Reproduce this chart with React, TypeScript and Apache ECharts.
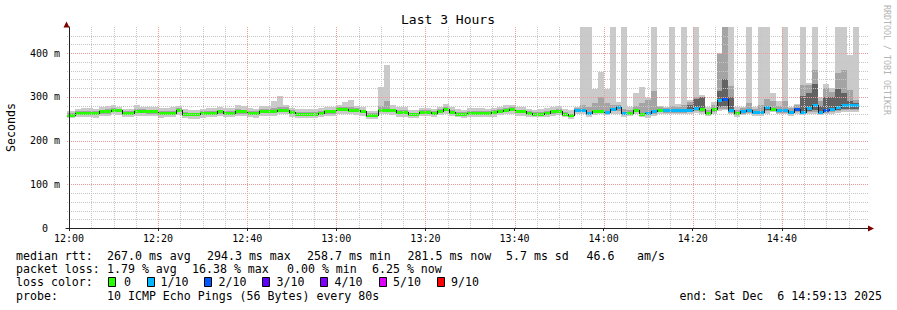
import React, { useEffect, useRef } from 'react';
import * as echarts from 'echarts';

// seconds per sample, sample index of the first entry (relative to 12:00:00)
const STEP = 80;
const FIRST_SAMPLE = -1;

// median RTT per sample (ms)
const medianRtt = [
  259, 259, 264, 264, 263, 263, 267, 267, 270, 270,
  263, 263, 268, 268, 267, 267, 263, 264, 264, 270,
  262, 260, 260, 263, 263, 263, 267, 264, 264, 267,
  267, 263, 263, 268, 268, 268, 271, 271, 265, 262,
  262, 262, 262, 264, 267, 267, 272, 272, 269, 269,
  267, 259, 259, 269, 269, 269, 265, 265, 260, 260,
  266, 266, 263, 268, 272, 266, 262, 261, 264, 264,
  264, 264, 265, 268, 271, 272, 267, 267, 263, 262,
  262, 263, 267, 268, 261, 258, 270, 271, 263, 268,
  268, 266, 273, 276, 263, 264, 270, 262, 263, 268,
  271, 270, 270, 270, 270, 271, 275, 273, 264, 272,
  292, 295, 270, 263, 268, 270, 266, 266, 277, 273,
  270, 270, 266, 273, 265, 275, 281, 266, 270, 273,
  276, 281, 281, 281,
];

// lost pings (of 10) per sample
const lossCount = [
  0, 0, 0, 0, 0, 0, 0, 0, 0, 0,
  0, 0, 0, 0, 0, 0, 0, 0, 0, 0,
  0, 0, 0, 0, 0, 0, 0, 0, 0, 0,
  0, 0, 0, 0, 0, 0, 0, 0, 0, 0,
  0, 0, 0, 0, 0, 0, 0, 0, 0, 0,
  0, 0, 0, 0, 0, 0, 0, 0, 0, 0,
  0, 0, 0, 0, 0, 0, 0, 0, 0, 0,
  0, 0, 0, 0, 0, 0, 0, 0, 0, 0,
  0, 0, 0, 0, 0, 0, 1, 1, 1, 0,
  0, 1, 1, 1, 1, 0, 0, 0, 1, 1,
  0, 1, 1, 1, 1, 1, 1, 0, 0, 0,
  1, 2, 1, 0, 1, 1, 1, 1, 1, 0,
  1, 1, 1, 2, 1, 1, 1, 1, 2, 1,
  1, 1, 1, 1,
];

// smoke: slowest / fastest ping (outer band)
const pingMin = [
  251, 251, 254, 253, 253, 252, 256, 256, 260, 258,
  254, 253, 256, 257, 256, 256, 252, 254, 254, 258,
  252, 250, 250, 252, 253, 254, 256, 253, 254, 256,
  256, 253, 252, 257, 257, 256, 260, 260, 254, 252,
  252, 252, 252, 254, 256, 256, 262, 261, 260, 259,
  257, 250, 250, 260, 260, 259, 255, 255, 251, 251,
  256, 256, 253, 258, 261, 256, 253, 252, 254, 254,
  254, 254, 255, 258, 260, 261, 257, 257, 254, 253,
  253, 254, 257, 258, 253, 250, 262, 262, 255, 259,
  260, 258, 262, 262, 253, 257, 262, 255, 252, 256,
  262, 260, 260, 260, 260, 262, 264, 262, 257, 262,
  268, 270, 260, 255, 258, 260, 257, 257, 262, 265,
  260, 260, 256, 262, 258, 262, 262, 258, 260, 262,
  264, 266, 266, 266,
];
const pingMax = [
  268, 268, 273, 274, 274, 273, 276, 279, 282, 278,
  272, 272, 281, 278, 276, 277, 274, 274, 277, 279,
  272, 270, 270, 273, 274, 274, 277, 275, 275, 282,
  279, 274, 273, 279, 280, 291, 301, 282, 275, 272,
  272, 273, 273, 275, 277, 277, 282, 288, 292, 280,
  278, 268, 268, 322, 372, 281, 277, 276, 270, 269,
  275, 274, 272, 278, 283, 278, 272, 270, 274, 275,
  274, 273, 275, 278, 281, 282, 277, 276, 272, 271,
  272, 274, 278, 279, 272, 270, 278, 500, 500, 317,
  357, 319, 500, 289, 500, 276, 309, 323, 298, 500,
  279, 276, 500, 284, 500, 292, 500, 304, 276, 289,
  401, 500, 500, 278, 276, 500, 276, 500, 500, 310,
  291, 500, 276, 284, 500, 332, 500, 300, 330, 320,
  500, 500, 395, 500,
];
// smoke: 2nd / 9th ping (middle band)
const pingLo2 = [
  255, 255, 260, 260, 259, 259, 262, 262, 265, 265,
  259, 259, 263, 263, 262, 262, 259, 260, 260, 265,
  258, 256, 256, 259, 259, 259, 262, 260, 260, 262,
  262, 259, 259, 263, 263, 263, 266, 266, 260, 258,
  258, 258, 258, 260, 262, 262, 267, 267, 265, 265,
  263, 255, 255, 265, 265, 265, 261, 261, 256, 256,
  262, 262, 259, 264, 267, 262, 258, 257, 260, 260,
  260, 260, 261, 264, 266, 267, 263, 263, 259, 258,
  258, 259, 262, 263, 257, 255, 265, 265, 259, 263,
  263, 261, 267, 268, 258, 259, 265, 258, 258, 262,
  265, 264, 264, 264, 264, 265, 268, 266, 260, 266,
  272, 272, 264, 258, 262, 264, 261, 261, 267, 268,
  263, 264, 260, 266, 262, 266, 266, 261, 264, 266,
  267, 270, 270, 270,
];
const pingHi2 = [
  263, 263, 268, 268, 267, 267, 271, 272, 274, 273,
  267, 267, 272, 272, 271, 271, 267, 268, 268, 274,
  266, 264, 264, 267, 267, 267, 271, 268, 268, 272,
  271, 267, 267, 272, 273, 274, 277, 276, 269, 266,
  266, 266, 266, 268, 271, 271, 277, 278, 276, 274,
  271, 263, 263, 280, 290, 273, 269, 269, 264, 264,
  270, 270, 267, 272, 277, 270, 266, 265, 268, 268,
  268, 268, 269, 272, 275, 276, 271, 271, 267, 266,
  266, 267, 271, 272, 265, 262, 275, 282, 278, 285,
  300, 285, 282, 282, 272, 270, 280, 285, 292, 314,
  277, 275, 280, 278, 282, 288, 300, 300, 270, 282,
  399, 500, 324, 270, 274, 285, 272, 282, 296, 290,
  280, 290, 274, 282, 327, 327, 361, 290, 320, 312,
  355, 361, 315, 294,
];
// smoke: 4th / 7th ping (inner band)
const pingLo4 = [
  257, 257, 262, 262, 261, 261, 264, 264, 267, 267,
  261, 261, 265, 265, 264, 264, 261, 262, 262, 267,
  260, 258, 258, 261, 261, 261, 264, 262, 262, 264,
  264, 261, 261, 265, 265, 265, 268, 268, 263, 260,
  260, 260, 260, 262, 264, 264, 269, 269, 267, 267,
  265, 257, 257, 267, 267, 267, 263, 263, 258, 258,
  264, 264, 261, 266, 269, 264, 260, 259, 262, 262,
  262, 262, 263, 266, 268, 269, 265, 265, 261, 260,
  260, 261, 265, 266, 259, 256, 268, 268, 261, 266,
  266, 264, 270, 272, 261, 262, 268, 260, 261, 266,
  268, 268, 268, 268, 268, 269, 270, 268, 262, 268,
  276, 280, 266, 261, 266, 268, 264, 264, 270, 270,
  267, 267, 264, 268, 264, 268, 270, 264, 266, 268,
  270, 272, 272, 272,
];
const pingHi4 = [
  261, 261, 266, 266, 265, 265, 269, 269, 272, 272,
  265, 265, 270, 270, 269, 269, 265, 266, 266, 272,
  264, 262, 262, 265, 265, 265, 269, 266, 266, 269,
  269, 265, 265, 270, 270, 270, 273, 273, 267, 264,
  264, 264, 264, 266, 269, 269, 274, 274, 271, 271,
  269, 261, 261, 271, 271, 271, 267, 267, 262, 262,
  268, 268, 265, 270, 274, 268, 264, 263, 266, 266,
  266, 266, 267, 270, 273, 274, 269, 269, 265, 264,
  264, 265, 269, 270, 263, 260, 272, 273, 265, 270,
  270, 268, 275, 278, 265, 266, 272, 264, 265, 270,
  273, 272, 272, 272, 272, 282, 296, 300, 266, 274,
  313, 342, 300, 265, 270, 272, 268, 268, 279, 275,
  272, 272, 268, 275, 302, 310, 330, 280, 300, 300,
  317, 310, 290, 285,
];

// axis ticks (x in seconds after 12:00)
const xTickValues = [0, 1200, 2400, 3600, 4800, 6000, 7200, 8400, 9600];
const xTickLabels = ['12:00', '12:20', '12:40', '13:00', '13:20', '13:40', '14:00', '14:20', '14:40'];
const yTickValues = [0, 100, 200, 300, 400];
const yTickLabels = ['0', '100 m', '200 m', '300 m', '400 m'];

// loss colour legend
const lossLevels = [0, 1, 2, 3, 4, 5, 9];
const lossLabels = ['0', '1/10', '2/10', '3/10', '4/10', '5/10', '9/10'];
const lossColors = ['#26ff00', '#00b8ff', '#0059ff', '#5e00ff', '#7e00ff', '#dd00ff', '#ff0000'];

const FONT = '"DejaVu Sans Mono", "Liberation Mono", monospace';

function lossColorOf(c: number): string {
  let idx = 0;
  for (let i = 0; i < lossLevels.length; i++) if (c >= lossLevels[i]) idx = i;
  return lossColors[idx];
}

function buildBand(lo: number[], hi: number[]) {
  return medianRtt.map((_, i) => {
    const t0 = (FIRST_SAMPLE + i) * STEP;
    return [t0, t0 + STEP, lo[i], hi[i]];
  });
}

function bandRenderer(color: string) {
  return (params: any, api: any) => {
    const cs = params.coordSys;
    const a = api.coord([api.value(0), api.value(3)]);
    const b = api.coord([api.value(1), api.value(2)]);
    const x0 = Math.max(cs.x + 1, Math.round(a[0]));
    const x1 = Math.min(cs.x + cs.width, Math.round(b[0]));
    const y0 = Math.max(cs.y, Math.round(a[1]));
    const y1 = Math.min(cs.y + cs.height, Math.round(b[1]));
    if (x1 <= x0 || y1 <= y0) return { type: 'group', children: [] };
    return {
      type: 'rect',
      shape: { x: x0, y: y0, width: x1 - x0, height: y1 - y0 },
      style: { fill: color },
    };
  };
}

function medianRenderer(params: any, api: any) {
  const cs = params.coordSys;
  const t0 = api.value(0);
  const t1 = api.value(1);
  const m = api.value(2);
  const pm = api.value(3);
  const loss = api.value(4);
  const a = api.coord([t0, m]);
  const b = api.coord([t1, m]);
  const p = api.coord([t0, pm]);
  const xr = Math.round(a[0]);
  const x0 = Math.max(cs.x + 1, xr);
  const x1 = Math.min(cs.x + cs.width, Math.round(b[0]));
  const y = Math.round(a[1]);
  const yp = Math.round(p[1]);
  const children: any[] = [];
  if (x1 > x0) {
    children.push({
      type: 'rect',
      shape: { x: x0, y: y - 1, width: x1 - x0, height: 3 },
      style: { fill: lossColorOf(loss) },
    });
  }
  if (yp !== y && xr > cs.x + 1) {
    children.push({
      type: 'rect',
      shape: { x: xr, y: Math.min(y, yp), width: 1, height: Math.abs(y - yp) + 1 },
      style: { fill: '#202020' },
    });
  }
  return { type: 'group', children };
}

function gridRenderer(params: any, api: any) {
  const cs = params.coordSys;
  const left = cs.x + 1;
  const right = cs.x + cs.width;
  const top = cs.y;
  const bottom = cs.y + cs.height;
  const minor = '#c6c6c6';
  const major = '#ec9a9a';
  const children: any[] = [];
  const vline = (t: number, color: string) => {
    const x = Math.round(api.coord([t, 0])[0]) + 0.5;
    children.push({
      type: 'line',
      shape: { x1: x, y1: top, x2: x, y2: bottom },
      style: { stroke: color, lineWidth: 1, lineDash: [1, 1] },
    });
  };
  const hline = (v: number, color: string) => {
    const y = Math.round(api.coord([0, v])[1]) + 0.5;
    children.push({
      type: 'line',
      shape: { x1: left, y1: y, x2: right, y2: y },
      style: { stroke: color, lineWidth: 1, lineDash: [1, 1] },
    });
  };
  for (let t = 0; t <= 10500; t += 300) if (t % 1200 !== 0) vline(t, minor);
  for (let v = 20; v <= 440; v += 20) if (v % 100 !== 0) hline(v, minor);
  for (let t = 0; t <= 10500; t += 1200) vline(t, major);
  for (let v = 100; v <= 400; v += 100) hline(v, major);
  return { type: 'group', children };
}

function text(x: number, y: number, s: string, size = 11.6, align = 'left', extra: any = {}) {
  return {
    type: 'text',
    x,
    y,
    silent: true,
    ...extra,
    style: {
      text: s,
      fill: extra.fill || '#000',
      fontFamily: FONT,
      fontSize: size,
      align,
      verticalAlign: 'middle',
    },
  };
}

function buildOption() {
  const medianData = medianRtt.map((m, i) => {
    const t0 = (FIRST_SAMPLE + i) * STEP;
    return [t0, t0 + STEP, m, i > 0 ? medianRtt[i - 1] : m, lossCount[i]];
  });

  const row1 = 255.5;
  const row2 = 268.5;
  const row3 = 282;
  const row4 = 296;
  const boxX = [108, 147, 204, 262, 320, 379, 437];
  const boxLabelX = [124, 160.5, 218.5, 276.5, 334.5, 393, 451];

  const elements: any[] = [
    text(448, 19.5, 'Last 3 Hours', 13, 'center'),
    text(11, 127.5, 'Seconds', 11.6, 'center', { rotation: Math.PI / 2 }),
    text(886.5, 60, 'RRDTOOL / TOBI OETIKER', 8.3, 'center', { rotation: -Math.PI / 2, fill: '#b4b4b4' }),
    {
      type: 'polygon', silent: true, z: 100,
      shape: { points: [[66.5, 21.5], [63.5, 27.5], [69.5, 27.5]] },
      style: { fill: '#7f0000' },
    },
    {
      type: 'polygon', silent: true, z: 100,
      shape: { points: [[874, 228.5], [868, 225.5], [868, 231.5]] },
      style: { fill: '#7f0000' },
    },
    text(16, row1, 'median rtt:'),
    text(107, row1, '267.0 ms avg'),
    text(207, row1, '294.3 ms max'),
    text(307, row1, '258.7 ms min'),
    text(407.5, row1, '281.5 ms now'),
    text(506, row1, '5.7 ms sd'),
    text(586.5, row1, '46.6'),
    text(637, row1, 'am/s'),
    text(16, row2, 'packet loss:'),
    text(107, row2, '1.79 % avg'),
    text(192, row2, '16.38 % max'),
    text(287, row2, '0.00 % min'),
    text(372, row2, '6.25 % now'),
    text(16, row3, 'loss color:'),
    text(16, row4, 'probe:'),
    text(107, row4, '10 ICMP Echo Pings (56 Bytes) every 80s'),
    text(882, row4, 'end: Sat Dec  6 14:59:13 2025', 11.6, 'right'),
  ];
  lossLabels.forEach((lab, i) => {
    elements.push({
      type: 'rect', silent: true,
      shape: { x: boxX[i] + 0.5, y: row3 - 4.5, width: 7, height: 9 },
      style: { fill: lossColors[i], stroke: '#000', lineWidth: 1 },
    });
    elements.push(text(boxLabelX[i], row3, lab));
  });

  return {
    animation: false,
    backgroundColor: '#ffffff',
    grid: { left: 66, top: 27, width: 802, height: 201, containLabel: false, outerBoundsMode: 'none' },
    xAxis: {
      type: 'value',
      min: -40,
      max: 10760,
      z: 10,
      axisLine: { show: true, lineStyle: { color: '#222', width: 1 } },
      axisTick: { show: true, customValues: xTickValues, length: 3, lineStyle: { color: '#222' } },
      axisLabel: {
        customValues: xTickValues,
        formatter: (v: number) => {
          const i = xTickValues.indexOf(v);
          return i >= 0 ? xTickLabels[i] : '';
        },
        fontFamily: FONT,
        fontSize: 10,
        color: '#000',
        margin: 5,
      },
      splitLine: { show: false },
    },
    yAxis: {
      type: 'value',
      min: 0,
      max: 460,
      interval: 100,
      z: 10,
      axisLine: { show: true, lineStyle: { color: '#222', width: 1 } },
      axisTick: { show: false },
      axisLabel: {
        showMaxLabel: false,
        formatter: (v: number) => {
          const i = yTickValues.indexOf(v);
          if (i < 0) return '';
          return i === 0 ? '{z|' + yTickLabels[0] + '}' : yTickLabels[i];
        },
        fontFamily: FONT,
        fontSize: 10,
        color: '#000',
        margin: 6,
        rich: { z: { fontFamily: FONT, fontSize: 10, color: '#000', padding: [0, 12, 0, 0] } },
      },
      splitLine: { show: false },
    },
    series: [
      { type: 'custom', name: 'smoke outer', z: 2, silent: true, renderItem: bandRenderer('#cacaca'), data: buildBand(pingMin, pingMax) },
      { type: 'custom', name: 'smoke mid', z: 3, silent: true, renderItem: bandRenderer('#a4a4a4'), data: buildBand(pingLo2, pingHi2) },
      { type: 'custom', name: 'smoke inner', z: 4, silent: true, renderItem: bandRenderer('#626262'), data: buildBand(pingLo4, pingHi4) },
      { type: 'custom', name: 'median rtt', z: 5, silent: true, renderItem: medianRenderer, data: medianData },
      { type: 'custom', name: 'grid', z: 6, silent: true, renderItem: gridRenderer, data: [[0, 0]] },
    ],
    graphic: { elements },
  };
}

export default function App() {
  const ref = useRef<HTMLDivElement>(null);
  useEffect(() => {
    document.body.style.margin = '0';
    if (!ref.current) return;
    const chart = echarts.init(ref.current, undefined, { renderer: 'svg' });
    chart.setOption(buildOption() as any);
    return () => chart.dispose();
  }, []);
  return <div ref={ref} style={{ width: 897, height: 310 }} />;
}
